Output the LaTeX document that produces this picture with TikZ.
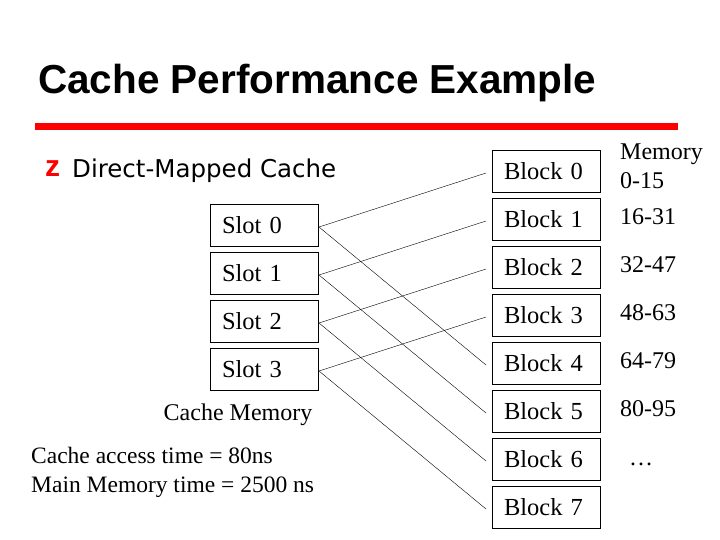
\documentclass[tikz,border=0pt]{standalone}
\usepackage{fontspec}
\setmainfont{Liberation Serif}
\newfontfamily\arialf{Liberation Sans}
\newfontfamily\tahf{DejaVu Sans}
\begin{document}
\begin{tikzpicture}[x=1pt,y=-1pt,
 bx/.style={draw,line width=0.6pt,minimum width=108pt,minimum height=42pt,inner sep=0pt,font=\fontsize{24.5}{24.5}\selectfont,text width=84pt,align=left},
 lab/.style={font=\fontsize{24}{29}\selectfont,anchor=west,inner sep=0pt,align=left},
 ln/.style={line width=0.4pt}]
\useasboundingbox (0,0) rectangle (720,540);
\node[anchor=west,inner sep=0pt,font=\arialf\bfseries\fontsize{40.5}{40.5}\selectfont] (title) at (38,83) {Cache Performance Example};
\draw[red,line width=7pt] (35,127) -- (678,127);
\node[anchor=west,inner sep=0pt,font=\tahf\fontsize{24.5}{24.5}\selectfont] (dm) at (72,171) {Direct-Mapped Cache};
\node[anchor=west,inner sep=0pt,text=red,font=\arialf\bfseries\fontsize{30}{30}\selectfont] (bul) at (45,169) {z};
\foreach \i in {0,...,3}{
 \node[bx] (s\i) at (264,{225+48*\i}) {Slot \i};
 \coordinate (so\i) at (319,{227+48*\i});
}
\foreach \i in {0,...,7}{
 \node[bx] (b\i) at (546,{171+48*\i}) {Block \i};
 \coordinate (bi\i) at (486,{173+48*\i});
}
\foreach \i in {0,...,3}{
 \draw[ln] (so\i) -- (bi\i);
 \pgfmathtruncatemacro\k{\i+4}
 \draw[ln] (so\i) -- (bi\k);
}
\node[font=\fontsize{24}{24}\selectfont,inner sep=0pt] (cm) at (238,415) {Cache Memory};
\node[lab,font=\fontsize{23.5}{29}\selectfont] (t1) at (31,472) {Cache access time = 80ns\\Main Memory time = 2500 ns};
\node[lab] (m0) at (620,166) {Memory\\0-15};
\node[lab] (m1) at (620,217) {16-31};
\node[lab] (m2) at (620,265) {32-47};
\node[lab] (m3) at (620,313) {48-63};
\node[lab] (m4) at (620,361) {64-79};
\node[lab] (m5) at (620,409) {80-95};
\node[lab] (m6) at (629,464) {\dots};
\end{tikzpicture}
\end{document}
